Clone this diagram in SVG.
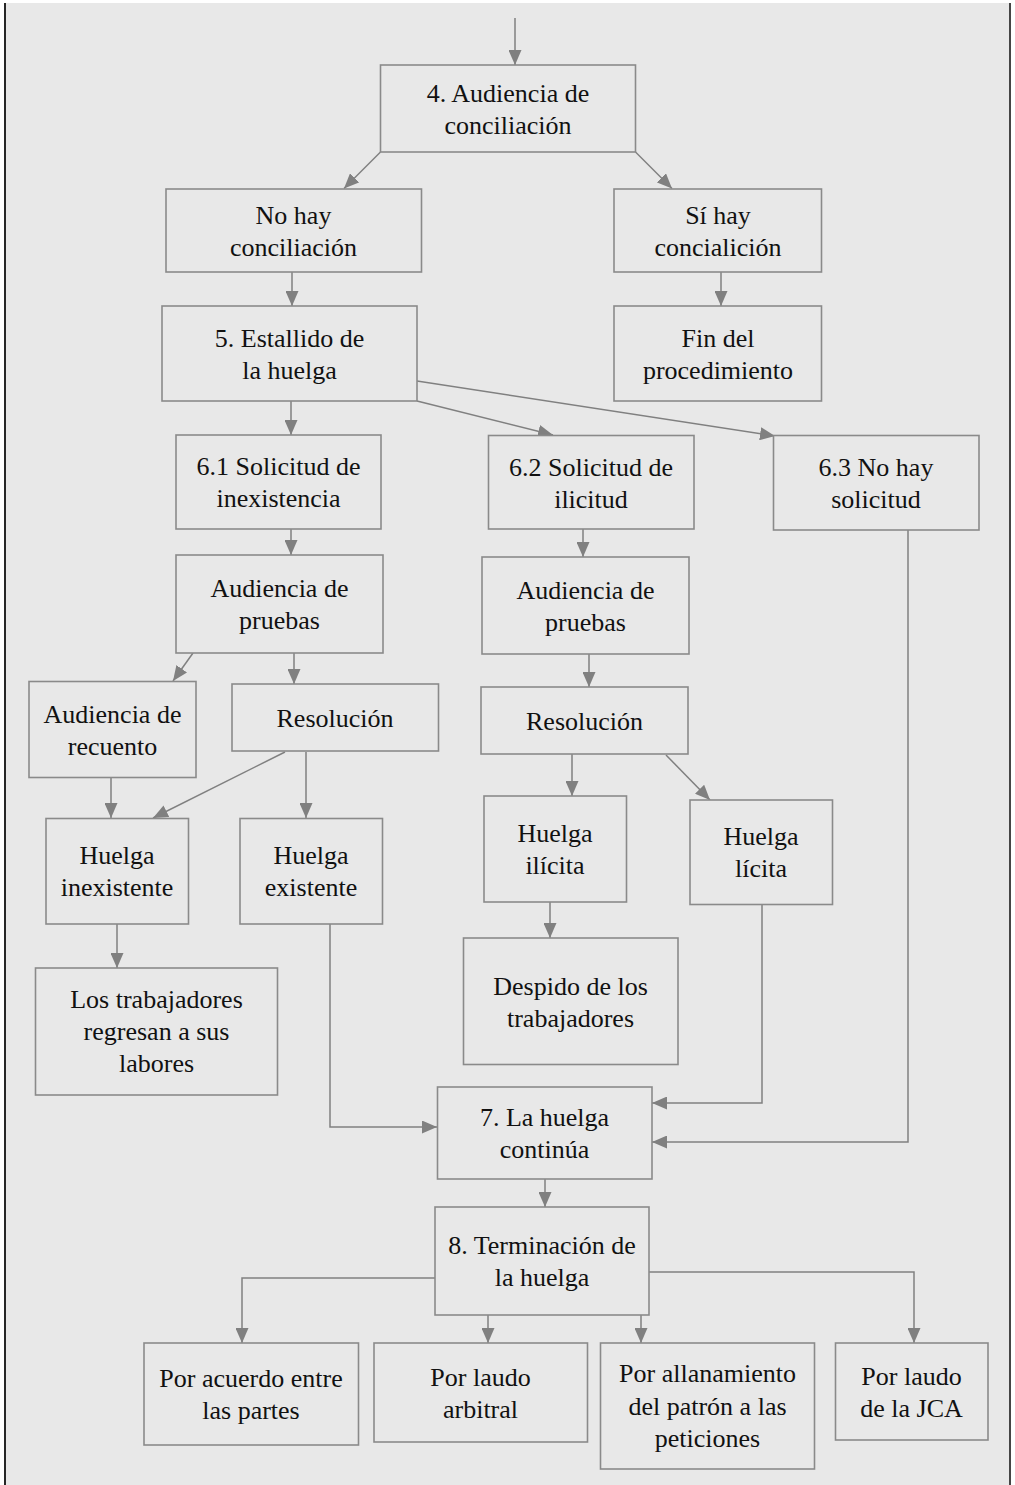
<svg xmlns="http://www.w3.org/2000/svg" width="1015" height="1485" viewBox="0 0 1015 1485" font-family="Liberation Serif, DejaVu Serif, serif">
<defs>
<style>
.bx{fill:#e8e8e8;stroke:#8a8a8a;stroke-width:1.6}
.t{font-size:26px;fill:#111;text-anchor:middle}
.c{fill:none;stroke:#808080;stroke-width:1.5;marker-end:url(#ah)}
</style>
<marker id="ah" markerUnits="userSpaceOnUse" markerWidth="15" markerHeight="13" refX="15" refY="6.5" orient="auto">
<path d="M0,0 L15,6.5 L0,13 z" fill="#808080"/>
</marker>
</defs>
<rect x="0" y="0" width="1015" height="1485" fill="#ffffff"/>
<rect x="4" y="3" width="1007" height="1482" fill="#e8e8e8"/>
<line x1="5" y1="3" x2="5" y2="1485" stroke="#111" stroke-width="1.8"/>
<line x1="1010" y1="3" x2="1010" y2="1485" stroke="#333" stroke-width="1.8"/>

<g id="connectors">
<path class="c" d="M515,18 L515,65"/>
<path class="c" d="M380.5,152 L344,188.5"/>
<path class="c" d="M635.5,152 L672,188.5"/>
<path class="c" d="M292,272 L292,306"/>
<path class="c" d="M721,272 L721,306"/>
<path class="c" d="M291,401 L291,435"/>
<path class="c" d="M417,401 L553,435"/>
<path class="c" d="M417,381 L775,436"/>
<path class="c" d="M291,529 L291,555"/>
<path class="c" d="M583,529 L583,557"/>
<path class="c" d="M193,653 L173,681"/>
<path class="c" d="M294,653 L294,684"/>
<path class="c" d="M589,654 L589,687"/>
<path class="c" d="M111,778 L111,818"/>
<path class="c" d="M285,752 L153,818"/>
<path class="c" d="M306,752 L306,818"/>
<path class="c" d="M117,924 L117,968"/>
<path class="c" d="M330,924 L330,1127 L437,1127"/>
<path class="c" d="M572,754 L572,796"/>
<path class="c" d="M666,755 L710,800"/>
<path class="c" d="M550,902 L550,938"/>
<path class="c" d="M762,904 L762,1103 L652,1103"/>
<path class="c" d="M908,530 L908,1142 L652,1142"/>
<path class="c" d="M545,1179 L545,1207"/>
<path class="c" d="M435,1278 L242,1278 L242,1343"/>
<path class="c" d="M488,1315 L488,1343"/>
<path class="c" d="M641,1315 L641,1343"/>
<path class="c" d="M649,1272 L914,1272 L914,1343"/>
</g>

<g id="n4"><rect class="bx" x="380.5" y="65" width="255" height="87"/>
<text class="t" x="508" y="101.5">4. Audiencia de</text><text class="t" x="508" y="133.5">conciliación</text></g>

<g id="noHay"><rect class="bx" x="166" y="189" width="255.5" height="83"/>
<text class="t" x="293.5" y="223.5">No hay</text><text class="t" x="293.5" y="255.5">conciliación</text></g>

<g id="siHay"><rect class="bx" x="614" y="189" width="207.5" height="83"/>
<text class="t" x="718" y="223.5">Sí hay</text><text class="t" x="718" y="255.5">concialición</text></g>

<g id="n5"><rect class="bx" x="162" y="306" width="255" height="95"/>
<text class="t" x="289.5" y="346.5">5. Estallido de</text><text class="t" x="289.5" y="378.5">la huelga</text></g>

<g id="fin"><rect class="bx" x="614" y="306" width="207.5" height="95"/>
<text class="t" x="718" y="346.5">Fin del</text><text class="t" x="718" y="378.5">procedimiento</text></g>

<g id="n61"><rect class="bx" x="176" y="435" width="205" height="94"/>
<text class="t" x="278.5" y="475">6.1 Solicitud de</text><text class="t" x="278.5" y="507">inexistencia</text></g>

<g id="n62"><rect class="bx" x="488.5" y="435.5" width="205.5" height="93.5"/>
<text class="t" x="591" y="475.5">6.2 Solicitud de</text><text class="t" x="591" y="507.5">ilicitud</text></g>

<g id="n63"><rect class="bx" x="773.5" y="435.5" width="205.5" height="94.5"/>
<text class="t" x="876" y="476">6.3 No hay</text><text class="t" x="876" y="508">solicitud</text></g>

<g id="pruebas1"><rect class="bx" x="176" y="555" width="207" height="98"/>
<text class="t" x="279.5" y="597">Audiencia de</text><text class="t" x="279.5" y="629">pruebas</text></g>

<g id="pruebas2"><rect class="bx" x="482" y="557" width="207" height="97"/>
<text class="t" x="585.5" y="598.5">Audiencia de</text><text class="t" x="585.5" y="630.5">pruebas</text></g>

<g id="recuento"><rect class="bx" x="29" y="681.5" width="167" height="96"/>
<text class="t" x="112.5" y="722.5">Audiencia de</text><text class="t" x="112.5" y="754.5">recuento</text></g>

<g id="res1"><rect class="bx" x="232" y="684" width="206.5" height="67"/>
<text class="t" x="335" y="726.5">Resolución</text></g>

<g id="res2"><rect class="bx" x="481" y="687" width="207" height="67"/>
<text class="t" x="584.5" y="729.5">Resolución</text></g>

<g id="inexistente"><rect class="bx" x="46" y="818.5" width="142.5" height="105.5"/>
<text class="t" x="117" y="864">Huelga</text><text class="t" x="117" y="896">inexistente</text></g>

<g id="existente"><rect class="bx" x="240" y="818.5" width="142.5" height="105.5"/>
<text class="t" x="311" y="864">Huelga</text><text class="t" x="311" y="896">existente</text></g>

<g id="ilicita"><rect class="bx" x="484" y="796" width="142.5" height="106"/>
<text class="t" x="555" y="841.5">Huelga</text><text class="t" x="555" y="873.5">ilícita</text></g>

<g id="licita"><rect class="bx" x="690" y="800" width="142.5" height="104.5"/>
<text class="t" x="761" y="845">Huelga</text><text class="t" x="761" y="877">lícita</text></g>

<g id="regresan"><rect class="bx" x="35.5" y="968" width="242" height="127"/>
<text class="t" x="156.5" y="1007.5">Los trabajadores</text><text class="t" x="156.5" y="1039.5">regresan a sus</text><text class="t" x="156.5" y="1071.5">labores</text></g>

<g id="despido"><rect class="bx" x="463.5" y="938" width="214.5" height="126.5"/>
<text class="t" x="570.5" y="994.5">Despido de los</text><text class="t" x="570.5" y="1026.5">trabajadores</text></g>

<g id="n7"><rect class="bx" x="437.5" y="1087" width="214.5" height="92"/>
<text class="t" x="544.5" y="1125.5">7. La huelga</text><text class="t" x="544.5" y="1157.5">continúa</text></g>

<g id="n8"><rect class="bx" x="435" y="1207" width="214" height="108"/>
<text class="t" x="542" y="1254">8. Terminación de</text><text class="t" x="542" y="1286">la huelga</text></g>

<g id="acuerdo"><rect class="bx" x="144" y="1343" width="214.5" height="102"/>
<text class="t" x="251" y="1387">Por acuerdo entre</text><text class="t" x="251" y="1419">las partes</text></g>

<g id="arbitral"><rect class="bx" x="374" y="1343" width="213.5" height="99"/>
<text class="t" x="480.5" y="1385.5">Por laudo</text><text class="t" x="480.5" y="1417.5">arbitral</text></g>

<g id="allanamiento"><rect class="bx" x="600.5" y="1343" width="214" height="126"/>
<text class="t" x="707.5" y="1382">Por allanamiento</text><text class="t" x="707.5" y="1414.5">del patrón a las</text><text class="t" x="707.5" y="1447">peticiones</text></g>

<g id="jca"><rect class="bx" x="835.5" y="1343" width="152.5" height="97"/>
<text class="t" x="911.5" y="1384.5">Por laudo</text><text class="t" x="911.5" y="1416.5">de la JCA</text></g>
</svg>
